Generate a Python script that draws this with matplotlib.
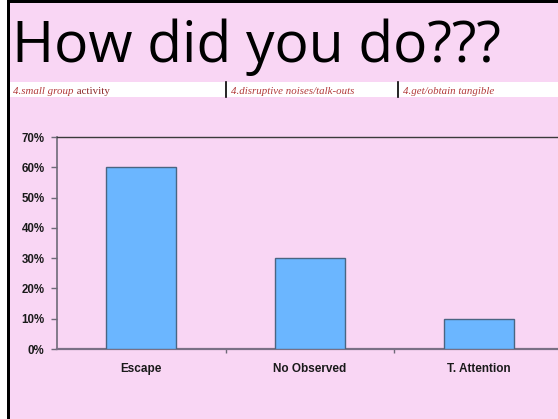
import numpy as np
import matplotlib
matplotlib.use('Agg')
import matplotlib.pyplot as plt
from matplotlib.patches import Rectangle

# data
categories = ['Escape', 'No Observed', 'T. Attention']
percent = [0.60, 0.30, 0.10]
y_ticks = [0.0, 0.1, 0.2, 0.3, 0.4, 0.5, 0.6, 0.7]
strip_texts = [('4.small group', ' activity'),
               ('4.disruptive noises/talk-outs', ''),
               ('4.get/obtain tangible', '')]

pink = '#F9D6F4'
W, H = 558, 419

fig = plt.figure(figsize=(W / 100, H / 100), dpi=100, facecolor=pink)


def px_rect(x0, y0, x1, y1, color, z=0):
    # rectangle in pixel coords (origin top-left)
    fig.patches.append(Rectangle((x0 / W, 1 - y1 / H), (x1 - x0) / W, (y1 - y0) / H,
                                 transform=fig.transFigure, facecolor=color,
                                 edgecolor='none', zorder=z))


# slide frame bits
px_rect(0, 0, 7, H, 'white')
px_rect(7, 0, 10, H, 'black')
px_rect(7, 0, W, 3, 'black')

# title
fig.text(12 / W, 1 - 62 / H, 'How did you do???', fontsize=41, family='Open Sans',
         color='black', va='baseline', ha='left')

# white strip with leftover text
px_rect(10, 82, W, 97, 'white')
for x in (226, 398):
    fig.add_artist(plt.Line2D([x / W, x / W], [1 - 82 / H, 1 - 97 / H], color='black', lw=1.2))
x_starts = [13, 231, 403]
for (it, rest), xs in zip(strip_texts, x_starts):
    t = fig.text(xs / W, 1 - 94 / H, it, fontsize=7.8, family='Liberation Serif',
                 style='italic', color='#B23A3A', va='baseline')
    if rest:
        fig.canvas.draw()
        bb = t.get_window_extent()
        fig.text(bb.x1 / W, 1 - 94 / H, rest, fontsize=7.8, family='Liberation Serif',
                 color='#8E2B2B', va='baseline')

# chart
ax = fig.add_axes([57 / W, 1 - 349 / H, 506 / W, 212 / H], facecolor=pink)
x = np.arange(len(categories))
ax.bar(x, percent, width=0.414, color='#6BB6FF', edgecolor='#4A6582', linewidth=1.0, zorder=3)

ax.set_xlim(-0.5, 2.5)
ax.set_ylim(0, 0.7)
ax.set_yticks(y_ticks)
ax.set_yticklabels([f'{int(round(v * 100))}%' for v in y_ticks])
ax.set_xticks(x)
ax.set_xticklabels(categories)
ax.set_xticks([0.5, 1.5], minor=True)

for lab in ax.get_yticklabels() + ax.get_xticklabels():
    lab.set_fontweight('bold')
    lab.set_family('Liberation Sans')
    lab.set_color('#1a1a1a')
for lab in ax.get_yticklabels():
    lab.set_fontsize(8.3)
for lab in ax.get_xticklabels():
    lab.set_fontsize(8.5)

ax.tick_params(axis='y', direction='out', length=4, width=1, color='#6e6a78', pad=5)
ax.tick_params(axis='x', which='major', length=0, pad=10)
ax.tick_params(axis='x', which='minor', direction='out', length=3, width=1, color='#6e6a78')

ax.spines['top'].set_color('#3a3a3a')
ax.spines['top'].set_linewidth(1.0)
ax.spines['left'].set_color('#6e6a78')
ax.spines['left'].set_linewidth(1.2)
ax.spines['bottom'].set_color('#7a7085')
ax.spines['bottom'].set_linewidth(1.6)
ax.spines['right'].set_visible(False)

fig.savefig('out.png', dpi=100, facecolor=pink)
